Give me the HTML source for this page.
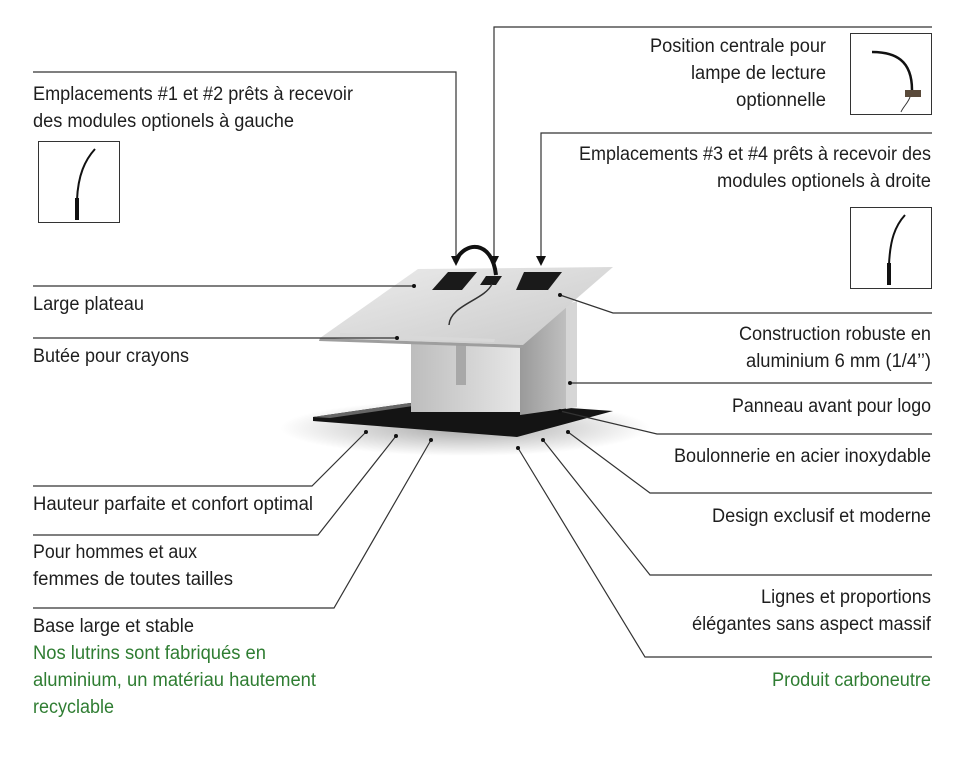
<!DOCTYPE html>
<html><head><meta charset="utf-8"><style>
html,body{margin:0;padding:0;background:#fff;}
svg{display:block;}
text{font-family:"Liberation Sans",sans-serif;font-size:19px;fill:#1e1e1e;}
.g{fill:#2f7d32;}
</style></head><body>
<svg width="960" height="765" viewBox="0 0 960 765" xmlns="http://www.w3.org/2000/svg">
<defs>
<radialGradient id="sh" cx="0.5" cy="0.5" r="0.5"><stop offset="0" stop-color="#000" stop-opacity="0.35"/><stop offset="1" stop-color="#000" stop-opacity="0"/></radialGradient>
<linearGradient id="plate" x1="0" y1="0" x2="1" y2="1"><stop offset="0" stop-color="#ececec"/><stop offset="1" stop-color="#c9c9c9"/></linearGradient>
<linearGradient id="side" x1="0" y1="0" x2="1" y2="0"><stop offset="0" stop-color="#9a9a9a"/><stop offset="1" stop-color="#c8c8c8"/></linearGradient>
<linearGradient id="back" x1="0" y1="0" x2="1" y2="0"><stop offset="0" stop-color="#bdbdbd"/><stop offset="1" stop-color="#e6e6e6"/></linearGradient>
</defs>

<!-- product -->
<ellipse cx="465" cy="428" rx="185" ry="28" fill="url(#sh)"/>
<polygon points="313,417 410,403 570,408 613,411 517,437 313,421" fill="#141414"/>
<polygon points="313,417 410,403 420,405 330,418" fill="#666"/>
<rect x="411" y="344" width="109" height="68" fill="url(#back)"/>
<rect x="456" y="345" width="10" height="40" fill="#a8a8a8"/>
<polygon points="520,346 566,305 577,301 577,407 520,415" fill="url(#side)"/>
<polygon points="566,305 577,301 577,407 566,409" fill="#d6d6d6"/>
<polygon points="418,269 613,267 523,345 320,338" fill="url(#plate)"/>
<polygon points="320,338 523,345 523,348 319,341" fill="#9e9e9e"/>
<polygon points="340,333 495,339 494,342 340,337" fill="#d8d8d8"/>
<polygon points="448,272 477,272 462,290 432,290" fill="#1a1a1a"/>
<polygon points="524,272 562,272 548,290 516,290" fill="#1a1a1a"/>
<polygon points="486,276 502,276 496,285 480,285" fill="#1a1a1a"/>
<path d="M492,284 C485,300 450,305 449,325" stroke="#333" stroke-width="1.5" fill="none"/>
<path d="M455,262 C465,240 492,240 496,275" stroke="#111" stroke-width="4" fill="none"/>

<!-- connectors -->
<g stroke="#333" stroke-width="1.2" fill="none">
<polyline points="33,72 456,72 456,258"/>
<polyline points="494,258 494,27 932,27"/>
<polyline points="541,258 541,133 932,133"/>
<line x1="33" y1="286" x2="414" y2="286"/>
<line x1="33" y1="338" x2="397" y2="338"/>
<polyline points="33,486 312,486 366,432"/>
<polyline points="33,535 318,535 396,436"/>
<polyline points="33,608 334,608 431,440"/>
<polyline points="560,295 613,313 932,313"/>
<line x1="570" y1="383" x2="932" y2="383"/>
<polyline points="560,411 657,434 932,434"/>
<polyline points="568,432 650,493 932,493"/>
<polyline points="543,440 650,575 932,575"/>
<polyline points="518,448 645,657 932,657"/>
</g>
<g fill="#111">
<polygon points="451,256 461,256 456,266"/>
<polygon points="489,256 499,256 494,266"/>
<polygon points="536,256 546,256 541,266"/>
<circle cx="414" cy="286" r="2"/><circle cx="397" cy="338" r="2"/>
<circle cx="366" cy="432" r="2"/><circle cx="396" cy="436" r="2"/><circle cx="431" cy="440" r="2"/>
<circle cx="560" cy="295" r="2"/><circle cx="570" cy="383" r="2"/><circle cx="560" cy="411" r="2"/>
<circle cx="568" cy="432" r="2"/><circle cx="543" cy="440" r="2"/><circle cx="518" cy="448" r="2"/>
</g>

<!-- thumbnails -->
<g stroke="#333" stroke-width="1" fill="#fff">
<rect x="38.5" y="141.5" width="81" height="81"/>
<rect x="850.5" y="33.5" width="81" height="81"/>
<rect x="850.5" y="207.5" width="81" height="81"/>
</g>
<path d="M95,149 C85,160 78,175 77,200" stroke="#111" stroke-width="2" fill="none"/>
<rect x="75" y="198" width="4" height="22" fill="#111"/>
<path d="M872,52 C895,52 912,60 912,90" stroke="#111" stroke-width="2.5" fill="none"/>
<rect x="905" y="90" width="16" height="7" fill="#5a4a3a"/>
<path d="M910,97 C908,103 903,107 901,112" stroke="#333" stroke-width="1" fill="none"/>
<path d="M905,215 C895,226 890,240 889,265" stroke="#111" stroke-width="2" fill="none"/>
<rect x="887" y="263" width="4" height="22" fill="#111"/>

<!-- left text -->
<text x="33" y="100" textLength="320" lengthAdjust="spacingAndGlyphs">Emplacements #1 et #2 prêts à recevoir</text>
<text x="33" y="127" textLength="261" lengthAdjust="spacingAndGlyphs">des modules optionels à gauche</text>
<text x="33" y="310" textLength="111" lengthAdjust="spacingAndGlyphs">Large plateau</text>
<text x="33" y="362" textLength="156" lengthAdjust="spacingAndGlyphs">Butée pour crayons</text>
<text x="33" y="510" textLength="280" lengthAdjust="spacingAndGlyphs">Hauteur parfaite et confort optimal</text>
<text x="33" y="558" textLength="164" lengthAdjust="spacingAndGlyphs">Pour hommes et aux</text>
<text x="33" y="585" textLength="200" lengthAdjust="spacingAndGlyphs">femmes de toutes tailles</text>
<text x="33" y="632" textLength="161" lengthAdjust="spacingAndGlyphs">Base large et stable</text>
<text class="g" x="33" y="659" textLength="233" lengthAdjust="spacingAndGlyphs">Nos lutrins sont fabriqués en</text>
<text class="g" x="33" y="686" textLength="283" lengthAdjust="spacingAndGlyphs">aluminium, un matériau hautement</text>
<text class="g" x="33" y="713" textLength="81" lengthAdjust="spacingAndGlyphs">recyclable</text>

<!-- right text -->
<text x="650" y="52" textLength="176" lengthAdjust="spacingAndGlyphs">Position centrale pour</text>
<text x="691" y="79" textLength="135" lengthAdjust="spacingAndGlyphs">lampe de lecture</text>
<text x="736" y="106" textLength="90" lengthAdjust="spacingAndGlyphs">optionnelle</text>
<text x="579" y="160" textLength="352" lengthAdjust="spacingAndGlyphs">Emplacements #3 et #4 prêts à recevoir des</text>
<text x="717" y="187" textLength="214" lengthAdjust="spacingAndGlyphs">modules optionels à droite</text>
<text x="739" y="340" textLength="192" lengthAdjust="spacingAndGlyphs">Construction robuste en</text>
<text x="746" y="367" textLength="185" lengthAdjust="spacingAndGlyphs">aluminium 6 mm (1/4’’)</text>
<text x="732" y="412" textLength="199" lengthAdjust="spacingAndGlyphs">Panneau avant pour logo</text>
<text x="674" y="462" textLength="257" lengthAdjust="spacingAndGlyphs">Boulonnerie en acier inoxydable</text>
<text x="712" y="522" textLength="219" lengthAdjust="spacingAndGlyphs">Design exclusif et moderne</text>
<text x="761" y="603" textLength="170" lengthAdjust="spacingAndGlyphs">Lignes et proportions</text>
<text x="692" y="630" textLength="239" lengthAdjust="spacingAndGlyphs">élégantes sans aspect massif</text>
<text class="g" x="772" y="686" textLength="159" lengthAdjust="spacingAndGlyphs">Produit carboneutre</text>
</svg>
</body></html>
